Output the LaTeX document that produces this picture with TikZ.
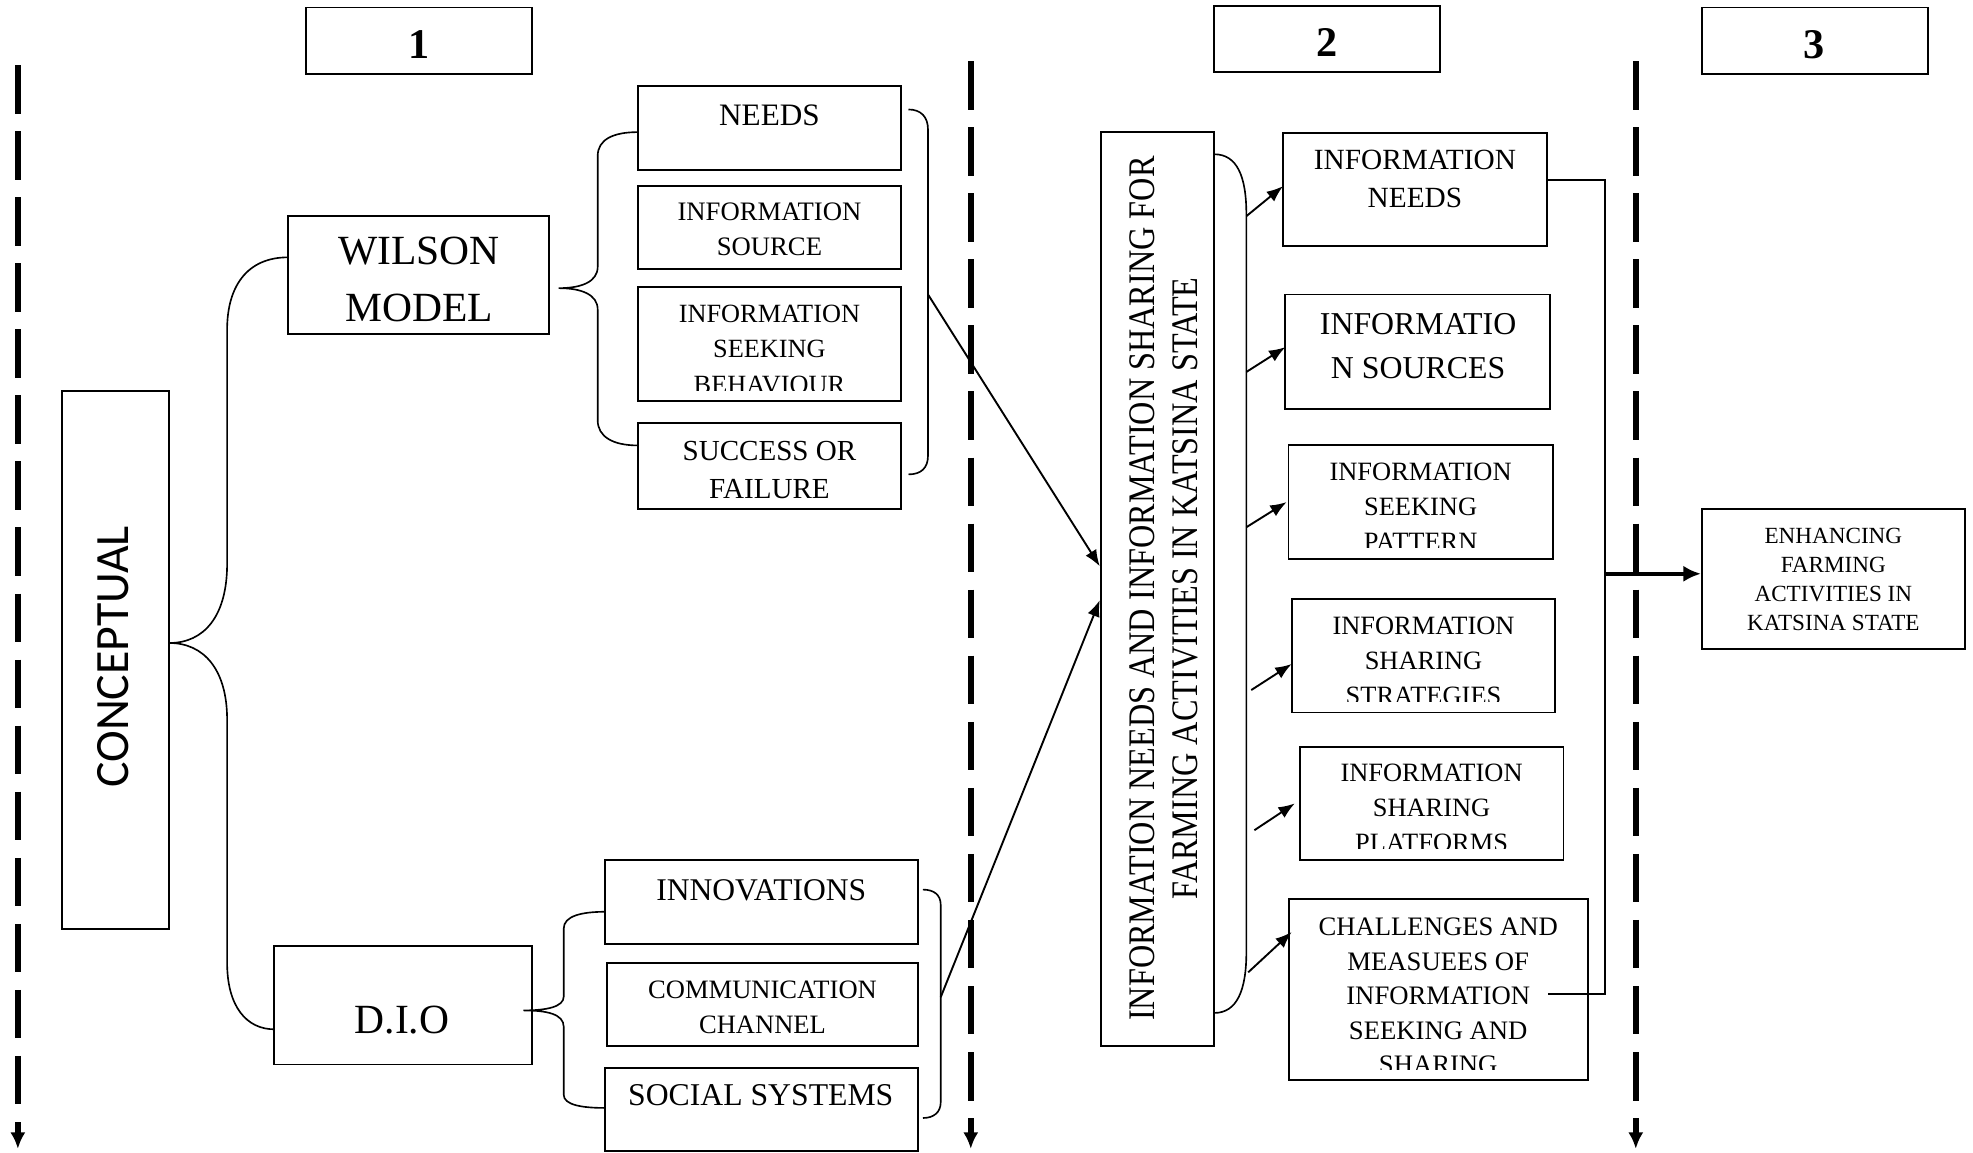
\documentclass[tikz,border=0pt]{standalone}
\usepackage{fontspec}
\setmainfont{Liberation Serif}
\newfontfamily\calfont{Carlito}
\newfontfamily\condfont[FakeStretch=0.86]{Liberation Serif}
\usetikzlibrary{arrows.meta,fit}
\tikzset{
 box/.style={draw, line width=0.75pt, inner sep=0pt},
 txt/.style={inner sep=0pt, align=center},
 brace/.style={line width=0.65pt},
 arr/.style={line width=0.75pt, -{Latex[length=6.5pt,width=5pt]}},
 bigarr/.style={line width=1.5pt, -{Latex[length=7pt,width=6.5pt]}},
 dashline/.style={line width=2.3pt, dash pattern=on 19.25pt off 7pt, -{Latex[length=6.5pt,width=6pt]}},
}
\newcommand\fsz[2]{\fontsize{#1pt}{#2pt}\selectfont}
\begin{document}
\begin{tikzpicture}[x=0.5pt,y=-0.5pt]
\useasboundingbox (0,0) rectangle (1568,916);

% dashed dividers
\coordinate (d1t) at (14.2,51.7); \coordinate (d1b) at (14.2,913);
\coordinate (d2t) at (771.5,48.6); \coordinate (d2b) at (771.5,913);
\coordinate (d3t) at (1300,48.6); \coordinate (d3b) at (1300,913);
\draw[dashline] (d1t) -- (d1b);
\draw[dashline] (d2t) -- (d2b);
\draw[dashline] (d3t) -- (d3b);

% number boxes
\node[box, fit={(243,6)(423,59)}] (n1) {};
\node[box, fit={(965,4.5)(1144.4,57.5)}] (n2) {};
\node[box, fit={(1352.5,6)(1532,58.7)}] (n3) {};
\node[txt, font=\bfseries\fsz{16.8}{20}] (n1t) at (333,35.7) {1};
\node[txt, font=\bfseries\fsz{16.8}{20}] (n2t) at (1054.7,34) {2};
\node[txt, font=\bfseries\fsz{16.8}{20}] (n3t) at (1442,35.7) {3};

% left column
\node[box, fit={(49,311)(134.5,738.5)}] (concept) {};
\node[txt, rotate=90, font=\calfont\fsz{19}{23}] (conceptt) at (90,522) {CONCEPTUAL};
\node[box, fit={(229,172)(436,265.5)}] (wilson) {};
\node[txt, font=\fsz{16.5}{22.7}] (wilsont) at (333,222.1) {WILSON\\MODEL};
\node[box, fit={(218,752)(423,846)}] (dio) {};
\node[txt, font=\fsz{16.5}{22.7}] (diot) at (319.5,811) {D.I.O};

% Wilson sub boxes
\node[box, fit={(507,68.5)(716,135)}] (needs) {};
\node[txt, font=\fsz{12.4}{16}] (needst) at (611.5,92) {NEEDS};
\node[box, fit={(507,147.5)(716,214)}] (isource) {};
\node[txt, font=\fsz{10.6}{13.7}] (isourcet) at (611.5,182.2) {INFORMATION\\SOURCE};
\node[box, fit={(507,228)(716,319)}] (iseek) {};
\begin{scope}
\clip (507,228) rectangle (716,310.2);
\node[txt, font=\fsz{10.45}{14.1}] (iseekt) at (611.5,277.4) {INFORMATION\\SEEKING\\BEHAVIOUR};
\end{scope}
\node[box, fit={(507,336)(716,404.5)}] (success) {};
\node[txt, font=\fsz{11.55}{15.2}] (successt) at (611.5,373.5) {SUCCESS OR\\FAILURE};

% DIO sub boxes
\node[box, fit={(480.5,683.6)(729.7,750)}] (innov) {};
\node[txt, font=\fsz{12.55}{16}] (innovt) at (605,707.3) {INNOVATIONS};
\node[box, fit={(482.6,765)(729.7,831.5)}] (comm) {};
\node[txt, font=\fsz{10.55}{13.8}] (commt) at (606,800.5) {COMMUNICATION\\CHANNEL};
\node[box, fit={(480.5,849)(729.7,914.5)}] (social) {};
\node[txt, font=\fsz{12.6}{16}] (socialt) at (604.6,870) {SOCIAL SYSTEMS};

% braces
\draw[brace] (229,204.5) .. controls (196,204.5) and (180.5,228) .. (180.5,262) -- (180.5,448)
  .. controls (180.5,490) and (162,511) .. (134.5,511)
  .. controls (162,511) and (180.5,532) .. (180.5,572) -- (180.5,765)
  .. controls (180.5,800) and (196,818) .. (218,818);
\draw[brace] (507,105) .. controls (487,105) and (475,111) .. (475,124) -- (475,212)
  .. controls (475,224) and (462,229) .. (444,229)
  .. controls (462,229) and (475,234) .. (475,246) -- (475,334)
  .. controls (475,347) and (487,354) .. (507,354);
\draw[brace] (722,87) .. controls (732,87) and (737.5,93) .. (737.5,103) -- (737.5,362)
  .. controls (737.5,372) and (732,377) .. (722,377);
\draw[brace] (481,724.6) .. controls (462,724.6) and (448,728) .. (448,738) -- (448,792)
  .. controls (448,800) and (435,803) .. (416,803)
  .. controls (435,803) and (448,806) .. (448,816) -- (448,870)
  .. controls (448,878) and (462,880.5) .. (481,880.5);
\draw[brace] (733.5,707) .. controls (742,707) and (747.6,711) .. (747.6,719) -- (747.6,876)
  .. controls (747.6,884) and (742,888.5) .. (733.5,888.5);

% big central box
\node[box, fit={(875,105)(964.8,831.3)}] (big) {};
\node[txt, rotate=90, font=\condfont\fsz{14.9}{16.85}] (bigt) at (925,467.7)
  {INFORMATION NEEDS AND INFORMATION SHARING FOR\\FARMING ACTIVITIES IN KATSINA STATE};
\draw[brace] (965,122.6) .. controls (983,122.6) and (990.5,140) .. (990.5,170) -- (990.5,757)
  .. controls (990.5,787) and (983,805) .. (965,805);

% arrows into big box
\coordinate (wb) at (737.5,234); \coordinate (bw1) at (874,450);
\coordinate (db) at (747.6,792.5); \coordinate (bw2) at (874,477);
\draw[arr] (wb) -- (bw1);
\draw[arr] (db) -- (bw2);

% right column boxes
\node[box, fit={(1019.6,105.5)(1229.5,195.3)}] (ineeds) {};
\node[txt, font=\fsz{11.65}{15.2}] (ineedst) at (1124.5,142.2) {INFORMATION\\NEEDS};
\node[box, fit={(1021.5,234)(1231.7,324.8)}] (isrc) {};
\node[txt, font=\fsz{12.65}{17.25}] (isrct) at (1127,274.9) {INFORMATIO\\N SOURCES};
\node[box, fit={(1024,353.4)(1234.2,444)}] (ipat) {};
\begin{scope}
\clip (1024,353.4) rectangle (1234.2,435.5);
\node[txt, font=\fsz{10.5}{14}] (ipatt) at (1129,402.8) {INFORMATION\\SEEKING\\PATTERN};
\end{scope}
\node[box, fit={(1026.5,475.9)(1236,566.2)}] (istrat) {};
\begin{scope}
\clip (1026.5,475.9) rectangle (1236,557.6);
\node[txt, font=\fsz{10.5}{14}] (istratt) at (1131.3,525) {INFORMATION\\SHARING\\STRATEGIES};
\end{scope}
\node[box, fit={(1033,593.3)(1242.5,683.5)}] (iplat) {};
\begin{scope}
\clip (1033,593.3) rectangle (1242.5,674.5);
\node[txt, font=\fsz{10.5}{13.75}] (iplatt) at (1137.7,642) {INFORMATION\\SHARING\\PLATFORMS};
\end{scope}
\node[box, fit={(1024.6,714.7)(1261.7,858.2)}] (chall) {};
\begin{scope}
\clip (1024.6,714.7) rectangle (1261.7,849.6);
\node[txt, font=\fsz{10.6}{13.75}] (challt) at (1143,791.5) {CHALLENGES AND\\MEASUEES OF\\INFORMATION\\SEEKING AND\\SHARING};
\end{scope}

% small arrows
\coordinate (s1) at (990.5,171.8); \coordinate (e1) at (1019.6,148);
\coordinate (s2) at (990.5,295.6); \coordinate (e2) at (1021.5,275.9);
\coordinate (s3) at (990.5,419);   \coordinate (e3) at (1022.5,399);
\coordinate (s4) at (994.4,548.4); \coordinate (e4) at (1026.5,527.7);
\coordinate (s5) at (996.9,659.8); \coordinate (e5) at (1029,638.5);
\coordinate (s6) at (992,772.7);   \coordinate (e6) at (1026.5,740.7);
\draw[arr] (s1) -- (e1);
\draw[arr] (s2) -- (e2);
\draw[arr] (s3) -- (e3);
\draw[arr] (s4) -- (e4);
\draw[arr] (s5) -- (e5);
\draw[arr] (s6) -- (e6);

% collector line and final arrow
\coordinate (c1) at (1229.5,143); \coordinate (c2) at (1275.5,143);
\coordinate (c3) at (1275.5,790); \coordinate (c4) at (1230,790);
\coordinate (c5) at (1275.5,456);
\draw[line width=0.75pt] (c1) -- (c2) -- (c3) -- (c4);
\node[box, fit={(1352.5,404.5)(1561.6,515.8)}] (enh) {};
\node[txt, font=\fsz{9.2}{11.5}] (enht) at (1457,460.2) {ENHANCING\\FARMING\\ACTIVITIES IN\\KATSINA STATE};
\draw[bigarr] (c5) -- (enh.west |- c5);
\end{tikzpicture}
\end{document}
